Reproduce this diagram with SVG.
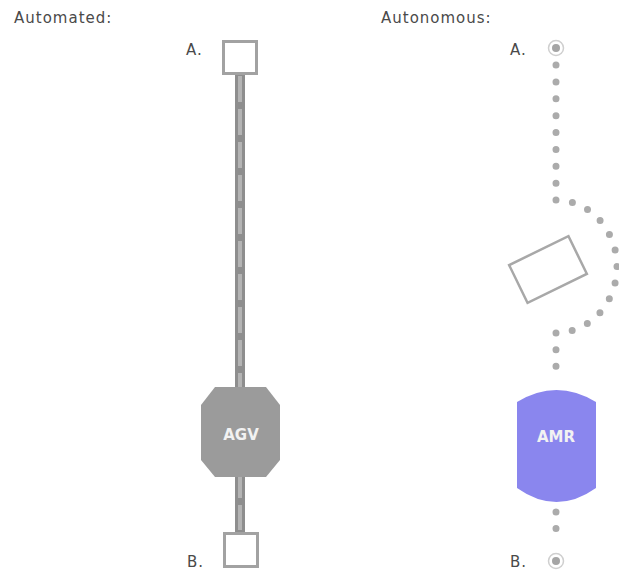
<svg xmlns="http://www.w3.org/2000/svg" width="619" height="572" viewBox="0 0 619 572">
<style>
.lbl{font-family:"DejaVu Sans",sans-serif;font-size:15px;fill:#4a4a4a;letter-spacing:1px}
.ntx{font-family:"DejaVu Sans",sans-serif;font-size:15px;font-weight:bold;fill:#f2f2f2;text-anchor:middle}
.sq{fill:#fff;stroke:#a2a2a2;stroke-width:3}
.dots{fill:none;stroke:#ababab;stroke-width:7;stroke-linecap:round}
</style>
<rect width="619" height="572" fill="#fff"/>
<text class="lbl" x="14" y="23">Automated:</text>
<text class="lbl" x="381" y="23">Autonomous:</text>
<g id="connectors">
  <rect x="235" y="74" width="10" height="458" fill="#8e8e8e"/>
  <line x1="240" y1="76" x2="240" y2="530" stroke="#b4b4b4" stroke-width="4" stroke-dasharray="26 7"/>
  <path class="dots" d="M556,65 V200" stroke-dasharray="0 16.875"/>
  <path class="dots" d="M556,200 A61,66.5 0 0 1 556,333" stroke-dasharray="0 16.69"/>
  <path class="dots" d="M556,333 V383" stroke-dasharray="0 16.67"/>
  <path class="dots" d="M556,512 V545" stroke-dasharray="0 16.5"/>
</g>
<g id="nodeA1">
  <rect class="sq" x="223.5" y="41.5" width="33" height="32"/>
  <text class="lbl" x="186" y="55">A.</text>
</g>
<g id="nodeB1">
  <rect class="sq" x="224.5" y="533.5" width="33" height="33"/>
  <text class="lbl" x="187" y="567">B.</text>
</g>
<g id="agv">
  <polygon points="215,387 266,387 280,405 280,460 266,477 215,477 201,460 201,405" fill="#9b9b9b"/>
  <text class="ntx" x="241" y="440">AGV</text>
</g>
<g id="nodeA2">
  <circle cx="556" cy="48" r="7.5" fill="none" stroke="#cfcfcf" stroke-width="1.5"/>
  <circle cx="556" cy="48" r="4" fill="#a5a5a5"/>
  <text class="lbl" x="510" y="55">A.</text>
</g>
<g id="obstacle">
  <rect x="-33" y="-21" width="66" height="42" transform="translate(548,269.5) rotate(-26)" fill="#fff" stroke="#a8a8a8" stroke-width="2.5"/>
</g>
<g id="amr">
  <path d="M517,402 Q556.5,378 596,402 L596,488 Q556.5,516 517,488 Z" fill="#8a86ee"/>
  <text class="ntx" x="556" y="442">AMR</text>
</g>
<g id="nodeB2">
  <circle cx="556" cy="561" r="7.5" fill="none" stroke="#cfcfcf" stroke-width="1.5"/>
  <circle cx="556" cy="561" r="4" fill="#a5a5a5"/>
  <text class="lbl" x="510" y="567">B.</text>
</g>
</svg>
